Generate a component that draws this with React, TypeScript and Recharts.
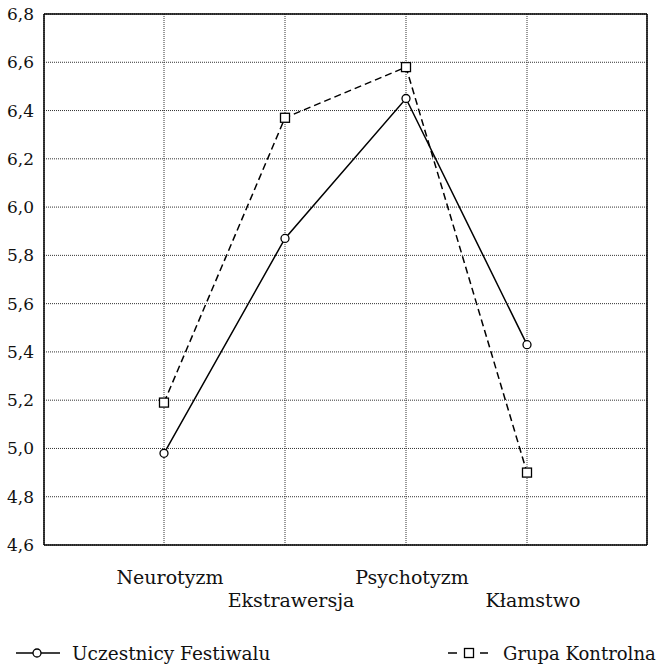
import React from "react";
import {
  LineChart,
  Line,
  XAxis,
  YAxis,
  CartesianGrid,
} from "recharts";

const categories = ["Neurotyzm", "Ekstrawersja", "Psychotyzm", "Kłamstwo"];
const festiwal = [4.98, 5.87, 6.45, 5.43];
const kontrolna = [5.19, 6.37, 6.58, 4.9];
const yTicks = [4.6, 4.8, 5.0, 5.2, 5.4, 5.6, 5.8, 6.0, 6.2, 6.4, 6.6, 6.8];

const FONT = "'DejaVu Serif', serif";

const data = categories.map((name, i) => ({
  name,
  festiwal: festiwal[i],
  kontrolna: kontrolna[i],
}));

function CategoryTick(props: any) {
  const { x, y, payload } = props;
  const low = payload.index % 2 === 1;
  return (
    <text
      x={x + 6}
      y={y + (low ? 62 : 39)}
      textAnchor="middle"
      fontFamily={FONT}
      fontSize={19}
      fill="#111"
    >
      {payload.value}
    </text>
  );
}

function SquareDot(props: any) {
  const { cx, cy } = props;
  if (cx == null || cy == null) return null;
  return (
    <rect
      x={cx - 4.5}
      y={cy - 4.5}
      width={9}
      height={9}
      fill="#fff"
      stroke="#000"
      strokeWidth={1.3}
    />
  );
}

export default function App() {
  return (
    <div style={{ position: "absolute", left: 0, top: 0, width: 661, height: 667 }}>
      <LineChart
        width={661}
        height={667}
        data={data}
        margin={{ top: 13, right: 13, bottom: 42, left: 0 }}
      >
        <CartesianGrid stroke="#333" strokeDasharray="1 1" />
        <XAxis
          dataKey="name"
          padding={{ left: 120, right: 120 }}
          height={80}
          tickLine={false}
          tickSize={0}
          tickMargin={0}
          axisLine={{ stroke: "#000", strokeWidth: 1.5 }}
          tick={<CategoryTick />}
          interval={0}
        />
        <XAxis
          xAxisId="top"
          dataKey="name"
          orientation="top"
          height={1}
          tick={false}
          tickLine={false}
          padding={{ left: 120, right: 120 }}
          axisLine={{ stroke: "#000", strokeWidth: 1.5 }}
        />
        <YAxis
          domain={[4.6, 6.8]}
          ticks={yTicks}
          width={44}
          tickLine={false}
          tickSize={8}
          tickMargin={2}
          axisLine={{ stroke: "#000", strokeWidth: 1.5 }}
          tickFormatter={(v: number) => v.toFixed(1).replace(".", ",")}
          tick={{ fontFamily: FONT, fontSize: 17, fill: "#111" }}
        />
        <YAxis
          yAxisId="right"
          orientation="right"
          domain={[4.6, 6.8]}
          width={1}
          tick={false}
          tickLine={false}
          axisLine={{ stroke: "#000", strokeWidth: 1.5 }}
        />
        <Line
          dataKey="kontrolna"
          stroke="#000"
          strokeWidth={1.5}
          strokeDasharray="7 4"
          dot={<SquareDot />}
          isAnimationActive={false}
        />
        <Line
          dataKey="festiwal"
          stroke="#000"
          strokeWidth={1.5}
          dot={{ r: 4, fill: "#fff", stroke: "#000", strokeWidth: 1.3 }}
          isAnimationActive={false}
        />
      </LineChart>
      <svg
        width={661}
        height={30}
        style={{ position: "absolute", left: 0, top: 638 }}
      >
        <line x1={16} y1={15} x2={60} y2={15} stroke="#000" strokeWidth={1.5} />
        <circle cx={37} cy={15} r={4} fill="#fff" stroke="#000" strokeWidth={1.3} />
        <text x={72} y={22} fontFamily={FONT} fontSize={18.5} fill="#111">
          Uczestnicy Festiwalu
        </text>
        <line x1={448} y1={15} x2={457} y2={15} stroke="#000" strokeWidth={1.5} />
        <rect x={464.5} y={10.5} width={9} height={9} fill="#fff" stroke="#000" strokeWidth={1.3} />
        <line x1={480} y1={15} x2={488} y2={15} stroke="#000" strokeWidth={1.5} />
        <text x={503} y={22} fontFamily={FONT} fontSize={18} fill="#111">
          Grupa Kontrolna
        </text>
      </svg>
    </div>
  );
}
